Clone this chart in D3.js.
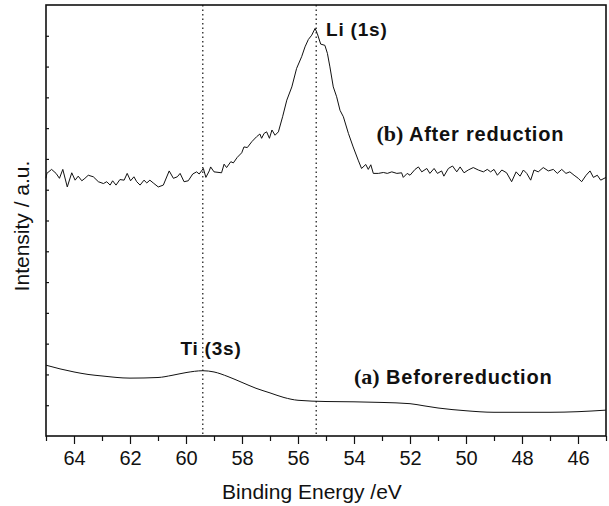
<!DOCTYPE html>
<html>
<head>
<meta charset="utf-8">
<script src="https://cdn.jsdelivr.net/npm/d3@7"></script>
<style>
  body { margin: 0; background: #fff; }
  text { font-family: "Liberation Sans", Arial, Helvetica, sans-serif; fill: #111; }
</style>
</head>
<body>
<div id="chart"></div>
<script>
// (b) after reduction - binding energy (eV) and intensity (a.u.)
const energyB = [65.0,64.97,64.80,64.64,64.52,64.40,64.24,64.08,63.96,63.85,63.72,63.61,63.49,63.31,63.13,62.95,62.83,62.71,62.62,62.50,
  62.36,62.21,62.10,61.98,61.86,61.76,61.64,61.50,61.40,61.29,61.17,60.99,60.81,60.60,60.45,60.31,60.21,60.07,59.92,59.76,
  59.62,59.53,59.38,59.29,59.17,59.12,59.00,58.73,58.64,58.55,58.40,58.31,58.17,58.01,57.93,57.81,57.65,57.48,57.36,57.30,
  57.21,57.12,57.02,56.93,56.82,56.70,56.55,56.40,56.22,56.05,55.87,55.75,55.63,55.51,55.39,55.31,55.19,55.04,54.95,54.86,
  54.74,54.62,54.50,54.38,54.20,54.03,53.85,53.73,53.58,53.49,53.40,53.31,53.13,52.95,52.81,52.65,52.47,52.30,52.24,52.10,
  52.00,51.82,51.70,51.58,51.40,51.29,51.14,51.02,50.87,50.79,50.63,50.48,50.33,50.21,50.07,49.92,49.74,49.56,49.38,49.24,
  49.12,49.00,48.88,48.72,48.55,48.37,48.21,48.07,47.95,47.83,47.69,47.57,47.42,47.24,47.06,46.88,46.74,46.58,46.43,46.29,
  46.14,45.99,45.87,45.71,45.57,45.45,45.31,45.19,45.0];
const intensityB = [8.37,8.53,8.66,8.53,8.37,8.66,8.09,8.55,8.31,8.44,8.29,8.37,8.47,8.42,8.26,8.20,8.26,8.15,8.29,8.15,
  8.33,8.31,8.53,8.29,8.42,8.26,8.15,8.31,8.22,8.31,8.22,8.09,8.15,8.61,8.37,8.42,8.53,8.26,8.29,8.51,
  8.58,8.51,8.69,8.40,8.61,8.74,8.58,8.55,8.83,8.72,8.91,8.87,9.05,9.20,9.39,9.37,9.56,9.72,9.81,9.67,
  9.83,9.88,9.67,9.94,9.77,9.88,10.37,10.91,11.34,11.94,12.32,12.64,12.88,13.02,13.24,13.07,12.73,12.69,12.43,11.99,
  11.34,11.02,10.58,10.37,9.83,9.39,8.96,8.69,8.82,8.66,8.81,8.53,8.53,8.56,8.53,8.58,8.53,8.55,8.40,8.53,
  8.47,8.66,8.74,8.58,8.69,8.53,8.69,8.53,8.61,8.44,8.69,8.77,8.58,8.74,8.55,8.64,8.72,8.64,8.58,8.66,
  8.58,8.66,8.47,8.64,8.55,8.26,8.58,8.44,8.64,8.53,8.31,8.64,8.58,8.72,8.61,8.66,8.53,8.66,8.53,8.58,
  8.47,8.37,8.26,8.47,8.61,8.40,8.47,8.31,8.40];

// (a) before reduction
const energyA = [65,64.5,64,63.5,63,62,61,60.5,60,59.4,59,58.5,58,57.5,57,56.5,56,55,54,53,52,51.5,51,50,49,48,47,46,45];
const intensityA = [2.30,2.18,2.08,2.00,1.95,1.88,1.90,1.97,2.06,2.12,2.08,1.93,1.74,1.55,1.40,1.25,1.16,1.12,1.11,1.09,1.05,0.98,0.91,0.82,0.77,0.77,0.77,0.79,0.84];

const majorTicks = [64,62,60,58,56,54,52,50,48,46];
const minorTicks = [65,63,61,59,57,55,53,51,49,47,45];
const yTicks = [1,2,3,4,5,6,7,8,9,10,11,12,13];
const peakLines = [59.4, 55.35];

const margin = {top: 5, right: 3, bottom: 70, left: 46},
    width = 609 - margin.left - margin.right,
    height = 506 - margin.top - margin.bottom;

const svg = d3.select("#chart")
    .append("svg")
    .attr("width", 609)
    .attr("height", 506)
    .append("g")
    .attr("transform", "translate(" + margin.left + "," + margin.top + ")");

const x = d3.scaleLinear().domain([65, 45]).range([0, width]);
const y = d3.scaleLinear().domain([0, 14]).range([height, 0]);

// bottom axis, major ticks with labels
svg.append("g")
    .attr("transform", `translate(0, ${height})`)
    .call(d3.axisBottom(x).tickValues(majorTicks).tickSize(8).tickSizeOuter(0).tickPadding(7))
    .call(g => g.select(".domain").remove())
    .selectAll("text")
    .attr("font-size", 20)
    .style("font-family", "Liberation Sans, Arial, sans-serif");

// minor ticks
svg.append("g")
    .attr("transform", `translate(0, ${height})`)
    .call(d3.axisBottom(x).tickValues(minorTicks).tickSize(5).tickFormat(""))
    .call(g => g.select(".domain").remove());

// left axis, short inward ticks, no labels
svg.append("g")
    .call(d3.axisLeft(y).tickValues(yTicks).tickSize(-3).tickFormat(""))
    .call(g => g.select(".domain").remove());

svg.selectAll(".tick line").attr("stroke", "#111").attr("stroke-width", 1.2);

// frame
svg.append("rect")
    .attr("x", 0).attr("y", 0)
    .attr("width", width).attr("height", height)
    .attr("fill", "none")
    .attr("stroke", "#111")
    .attr("stroke-width", 1.6);

// dotted peak lines
svg.selectAll(".peak")
    .data(peakLines)
    .join("line")
    .attr("class", "peak")
    .attr("x1", d => x(d)).attr("x2", d => x(d))
    .attr("y1", 0).attr("y2", height)
    .attr("stroke", "#111")
    .attr("stroke-width", 1.2)
    .attr("stroke-dasharray", "1.5 3");

// spectra
const lineB = d3.line()
    .x((d, i) => x(energyB[i]))
    .y(d => y(d));
svg.append("path")
    .datum(intensityB)
    .attr("fill", "none")
    .attr("stroke", "#111")
    .attr("stroke-width", 1)
    .attr("d", lineB);

const lineA = d3.line()
    .x((d, i) => x(energyA[i]))
    .y(d => y(d))
    .curve(d3.curveMonotoneX);
svg.append("path")
    .datum(intensityA)
    .attr("fill", "none")
    .attr("stroke", "#111")
    .attr("stroke-width", 1)
    .attr("d", lineA);

// peak labels
svg.append("text")
    .attr("x", x(55.0)).attr("y", 31)
    .attr("font-size", 19).attr("font-weight", "bold")
    .attr("letter-spacing", 0.8)
    .text("Li (1s)");

svg.append("text")
    .attr("x", x(60.2)).attr("y", 350)
    .attr("font-size", 19).attr("font-weight", "bold")
    .attr("letter-spacing", 0.8)
    .text("Ti (3s)");

// series labels
const labB = svg.append("text")
    .attr("x", x(53.2)).attr("y", 136)
    .attr("font-size", 20).attr("font-weight", "bold")
    .attr("letter-spacing", 0.8);
labB.append("tspan").style("font-family", "Liberation Serif, Times New Roman, serif")
    .attr("font-size", 22).attr("letter-spacing", 0).text("(b)");
labB.append("tspan").text(" After reduction");

const labA = svg.append("text")
    .attr("x", x(54.0)).attr("y", 379)
    .attr("font-size", 20).attr("font-weight", "bold")
    .attr("letter-spacing", 0.8);
labA.append("tspan").style("font-family", "Liberation Serif, Times New Roman, serif")
    .attr("font-size", 22).attr("letter-spacing", 0).text("(a)");
labA.append("tspan").text(" Beforereduction");

// axis titles
svg.append("text")
    .attr("text-anchor", "middle")
    .attr("x", width / 2 - 14)
    .attr("y", height + 63)
    .attr("font-size", 21)
    .text("Binding Energy /eV");

svg.append("text")
    .attr("text-anchor", "middle")
    .attr("transform", "rotate(-90)")
    .attr("x", -221)
    .attr("y", -17)
    .attr("font-size", 21)
    .text("Intensity / a.u.");
</script>
</body>
</html>
